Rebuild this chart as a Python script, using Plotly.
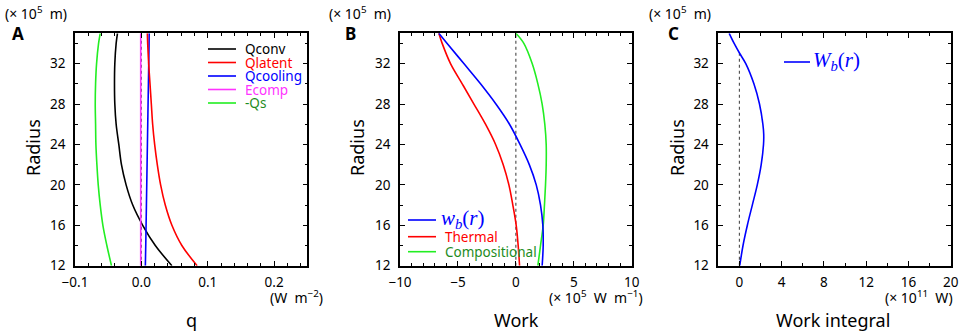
import plotly.graph_objects as go

W, H = 963, 332

# ---------------- data ----------------
radius_a = [12, 14, 16, 18, 20, 22, 24, 26, 28, 30, 32, 34, 35]
q_conv = [0.046, 0.021, 0.002, -0.013, -0.023, -0.030, -0.034, -0.038, -0.040, -0.0405, -0.040, -0.038, -0.036]
q_latent = [0.084, 0.061, 0.046, 0.036, 0.029, 0.024, 0.020, 0.017, 0.015, 0.013, 0.011, 0.0095, 0.009]
q_cooling = [0.006, 0.0066, 0.0071, 0.0076, 0.0081, 0.0086, 0.0091, 0.0096, 0.0101, 0.0106, 0.0111, 0.0116, 0.0118]
e_comp = [-0.001, -0.001, -0.001, -0.001, -0.001, -0.001, -0.001, -0.001, -0.001, -0.001, -0.001, -0.001, -0.001]
neg_qs = [-0.045, -0.052, -0.058, -0.062, -0.065, -0.067, -0.0685, -0.069, -0.0695, -0.069, -0.0675, -0.0645, -0.062]

radius_b = [12, 14, 16, 18, 20, 22, 24, 26, 28, 30, 32, 34, 35]
work_total = [2.27, 2.36, 2.33, 2.13, 1.76, 1.16, 0.36, -0.55, -1.72, -3.05, -4.49, -5.93, -6.65]
work_thermal = [0.32, 0.20, 0.03, -0.26, -0.60, -1.09, -1.75, -2.62, -3.62, -4.63, -5.64, -6.36, -6.65]
work_comp = [1.90, 2.13, 2.36, 2.47, 2.56, 2.62, 2.62, 2.50, 2.27, 1.90, 1.41, 0.69, 0.0]

radius_c = [12, 14, 16, 18, 20, 22, 24, 25, 26, 28, 30, 32, 33, 34, 35]
work_integral = [0.03, 0.34, 0.75, 1.22, 1.69, 2.06, 2.28, 2.30, 2.22, 1.90, 1.37, 0.60, 0.03, -0.50, -0.97]

x_ticks_a = [-0.1, 0.0, 0.1, 0.2]
x_ticks_b = [-10, -5, 0, 5, 10]
x_ticks_c = [0, 4, 8, 12, 16, 20]
y_ticks = [12, 16, 20, 24, 28, 32]

# ---------------- layout helpers ----------------
def px(x):
    return x / W

def py(y):
    return 1 - y / H

FONT = "Noto Sans"
GREEN = "#22ee22"
DKGREEN = "#1e8c1e"
MAGENTA = "#ff33ff"

doms = [(75, 307.3), (400, 631.7), (718.3, 950.7)]
ydom = [py(265.7), py(33.3)]

fig = go.Figure()

def line(x, y, color, ax, width=1.6, dash=None):
    fig.add_trace(go.Scatter(x=x, y=y, mode="lines", xaxis=ax[0], yaxis=ax[1],
                             line=dict(color=color, width=width, shape="spline", smoothing=1.0, dash=dash),
                             showlegend=False, hoverinfo="skip"))

def zero_line(ax, y0, y1):
    fig.add_trace(go.Scatter(x=[0, 0], y=[y0, y1], mode="lines", xaxis=ax[0], yaxis=ax[1],
                             line=dict(color="#555555", width=1.2, dash="dot"),
                             showlegend=False, hoverinfo="skip"))

A = ("x", "y")
B = ("x2", "y2")
C = ("x3", "y3")

zero_line(A, 12, 35)
line(neg_qs, radius_a, GREEN, A)
line(q_conv, radius_a, "black", A)
line(e_comp, radius_a, MAGENTA, A)
line(q_cooling, radius_a, "blue", A)
line(q_latent, radius_a, "red", A)

zero_line(B, 12, 35)
line(work_thermal, radius_b, "red", B)
line(work_comp, radius_b, GREEN, B)
line(work_total, radius_b, "blue", B)

zero_line(C, 12, 33)
line(work_integral, radius_c, "blue", C)

def xaxis(dom, rng, ticks, minor, fmt=None):
    d = dict(domain=[px(dom[0]), px(dom[1])], range=rng, tickvals=ticks, automargin=False,
             ticks="inside", ticklen=5, tickwidth=1.2, tickcolor="black",
             showline=True, linecolor="black", linewidth=1.5, mirror="allticks",
             showgrid=False, zeroline=False,
             tickfont=dict(family=FONT, size=13.5, color="black"),
             minor=dict(dtick=minor, ticks="inside", ticklen=3, tickwidth=1, tickcolor="black", showgrid=False),
             ticklabelstandoff=3)
    if fmt:
        d["tickformat"] = fmt
    return d

def yaxis(anchor):
    return dict(domain=ydom, range=[12, 35], tickvals=y_ticks, anchor=anchor, automargin=False,
                ticks="inside", ticklen=5, tickwidth=1.2, tickcolor="black",
                showline=True, linecolor="black", linewidth=1.5, mirror="allticks",
                showgrid=False, zeroline=False,
                tickfont=dict(family=FONT, size=13.5, color="black"),
                minor=dict(tick0=12, dtick=2, ticks="inside", ticklen=3, tickwidth=1, tickcolor="black", showgrid=False),
                ticklabelstandoff=5)

fig.update_layout(
    width=W, height=H, margin=dict(l=0, r=0, t=0, b=0, autoexpand=False),
    paper_bgcolor="white", plot_bgcolor="white",
    xaxis=dict(xaxis(doms[0], [-0.1, 0.25], x_ticks_a, 0.02, ".1f"), anchor="y"),
    xaxis2=dict(xaxis(doms[1], [-10, 10], x_ticks_b, 1), anchor="y2"),
    xaxis3=dict(xaxis(doms[2], [-2, 20], x_ticks_c, 2), anchor="y3"),
    yaxis=yaxis("x"), yaxis2=yaxis("x2"), yaxis3=yaxis("x3"),
)

ann = []
def text(x, y, s, size=13, color="black", xanchor="center", angle=0, family=FONT, bold=False):
    if bold:
        s = "<b>" + s + "</b>"
    ann.append(dict(x=px(x), y=py(y), xref="paper", yref="paper", text=s, showarrow=False,
                    xanchor=xanchor, yanchor="middle", textangle=angle,
                    font=dict(family=family, size=size, color=color)))

shapes = []
def sample(x0, x1, y, color):
    shapes.append(dict(type="line", xref="paper", yref="paper", x0=px(x0), x1=px(x1),
                       y0=py(y), y1=py(y), line=dict(color=color, width=1.6)))

SP = "&nbsp;&nbsp;"
# top unit labels and panel letters
for x0, letter, lx in [(3, "A", 18), (327, "B", 350), (647, "C", 673)]:
    text(x0, 12.5, "(× 10<sup>5</sup>" + SP + "m)", size=14, xanchor="left")
    text(lx, 34, letter, size=17, bold=True)

# y titles
for x in [33, 357, 677]:
    text(x, 148, "Radius", size=18, angle=-90)

# x unit labels
text(325, 297, "(W" + SP + "m<sup>−2</sup>)", size=14, xanchor="right")
text(645, 297, "(× 10<sup>5</sup>" + SP + "W" + SP + "m<sup>−1</sup>)", size=14, xanchor="right")
text(955, 297, "(× 10<sup>11</sup>" + SP + "W)", size=14, xanchor="right")

# x titles
text(191.7, 320, "q", size=18)
text(516, 320, "Work", size=18)
text(833, 320, "Work integral", size=18)

# legend A
leg_a = [("Qconv", "black", "black"), ("Qlatent", "red", "red"), ("Qcooling", "blue", "blue"),
         ("Ecomp", MAGENTA, MAGENTA), ("-Qs", GREEN, DKGREEN)]
for i, (name, lc, tc) in enumerate(leg_a):
    yy = 49 + i * 13.5
    sample(208, 236, yy, lc)
    text(243, yy, name, size=13.5, color=tc, xanchor="left")

# legend B
SERIF = "Liberation Serif"
sample(408, 436, 220, "blue")
text(439, 219, "<i>w</i><sub><i>b</i></sub>(<i>r</i>)", size=21, color="blue", xanchor="left", family=SERIF)
sample(408, 436, 236.7, "red")
text(442.5, 236.7, "Thermal", size=13.5, color="red", xanchor="left")
sample(408, 436, 251.7, GREEN)
text(442.5, 251.7, "Compositional", size=13.5, color=DKGREEN, xanchor="left")

# legend C
sample(784, 810, 62, "blue")
text(811, 61, "<i>W</i><sub><i>b</i></sub>(<i>r</i>)", size=21, color="blue", xanchor="left", family=SERIF)

fig.update_layout(annotations=ann, shapes=shapes)
fig.write_html("out.html", config={"displayModeBar": False},
               post_script="document.body.style.margin='0';document.body.style.overflow='hidden';")
